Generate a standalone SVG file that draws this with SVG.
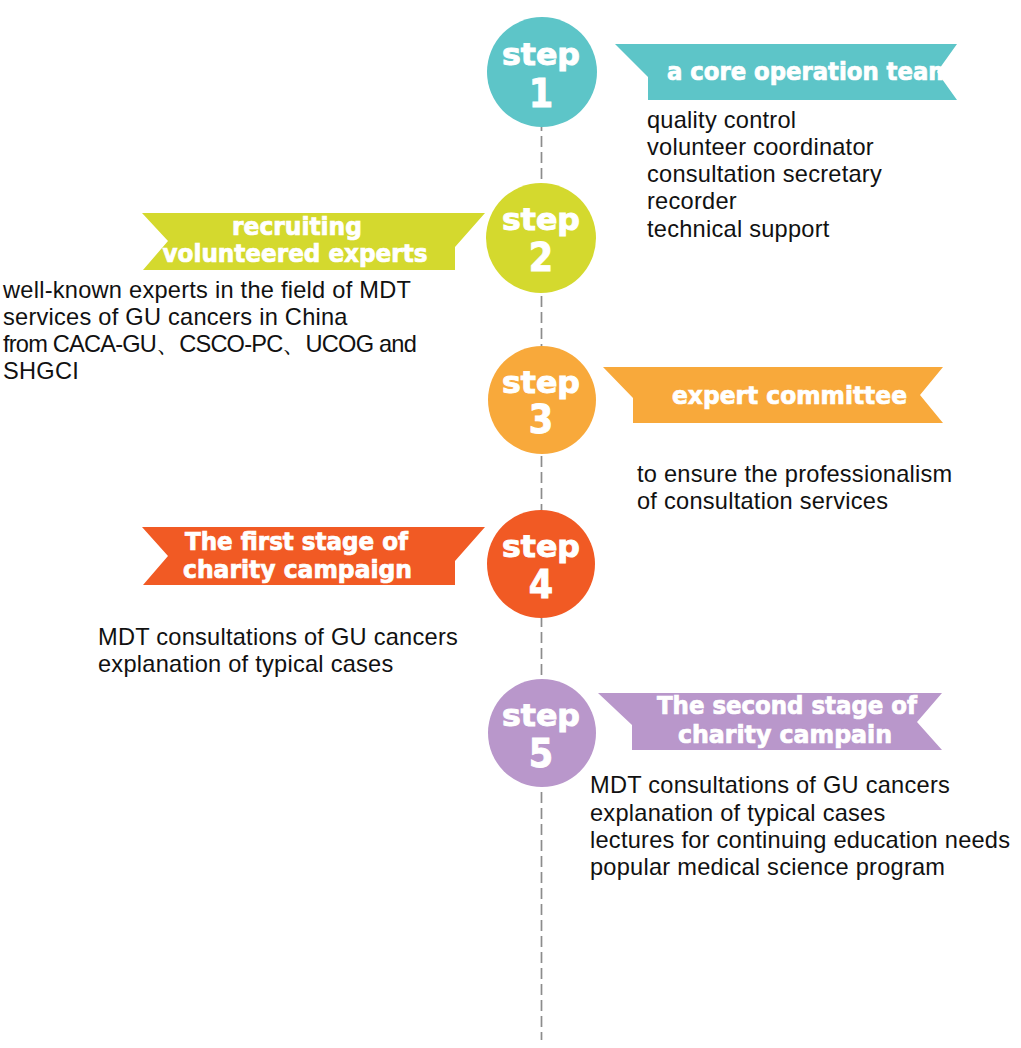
<svg xmlns="http://www.w3.org/2000/svg" width="1021" height="1048" viewBox="0 0 1021 1048">
<style>
.bg{fill:#ffffff}
.conn{stroke:#8c8c8c;stroke-width:1.7;stroke-dasharray:11 5;fill:none}
.st{font-family:"DejaVu Sans Condensed","DejaVu Sans",sans-serif;font-weight:bold;fill:#ffffff;text-anchor:middle;stroke:#ffffff;stroke-width:0.9}
.stw{font-size:31px}
.stn{font-size:39px}
.rb{font-family:"DejaVu Sans Condensed","DejaVu Sans",sans-serif;font-weight:bold;font-size:24px;fill:#ffffff;stroke:#ffffff;stroke-width:0.7}
.body{font-family:"Liberation Sans","Noto Sans",sans-serif;font-size:23.6px;letter-spacing:0.25px;fill:#111111}
.c1{fill:#5DC5C8}.c2{fill:#D4D92E}.c3{fill:#F8A93B}.c4{fill:#F15A24}.c5{fill:#B997CB}
</style>
<rect class="bg" x="0" y="0" width="1021" height="1048"/>
<g id="connectors">
<line class="conn" x1="541.5" y1="120" x2="541.5" y2="1040"/>
</g>
<g id="step1">
<circle class="c1" cx="542" cy="72" r="55"/>
<text class="st stw" x="541" y="65" textLength="78" lengthAdjust="spacingAndGlyphs">step</text>
<text class="st stn" x="541" y="107">1</text>
<polygon class="c1" points="615,44 957,44 937,72 957,100 648,100 648,77"/>
<text class="rb" x="667" y="80" textLength="285" lengthAdjust="spacingAndGlyphs">a core operation team</text>
<text class="body" x="647" y="128">quality control</text>
<text class="body" x="647" y="155">volunteer coordinator</text>
<text class="body" x="647" y="182">consultation secretary</text>
<text class="body" x="647" y="209">recorder</text>
<text class="body" x="647" y="237">technical support</text>
</g>
<g id="step2">
<circle class="c2" cx="541" cy="238" r="55"/>
<text class="st stw" x="541" y="230" textLength="78" lengthAdjust="spacingAndGlyphs">step</text>
<text class="st stn" x="541" y="271">2</text>
<polygon class="c2" points="142,213 485,213 455,247 455,270 143,270 168,241"/>
<text class="rb" x="297" y="235" text-anchor="middle" textLength="130" lengthAdjust="spacingAndGlyphs">recruiting</text>
<text class="rb" x="295" y="262" text-anchor="middle" textLength="265" lengthAdjust="spacingAndGlyphs">volunteered experts</text>
<text class="body" x="3" y="298">well-known experts in the field of MDT</text>
<text class="body" x="3" y="325">services of GU cancers in China</text>
<text class="body" x="3" y="352" textLength="414" lengthAdjust="spacing">from CACA-GU、CSCO-PC、UCOG and</text>
<text class="body" x="3" y="379">SHGCI</text>
</g>
<g id="step3">
<circle class="c3" cx="542" cy="400" r="54"/>
<text class="st stw" x="541" y="393" textLength="78" lengthAdjust="spacingAndGlyphs">step</text>
<text class="st stn" x="541" y="433">3</text>
<polygon class="c3" points="603,367 943,367 920,395 943,423 633,423 633,398"/>
<text class="rb" x="672" y="404" textLength="235" lengthAdjust="spacingAndGlyphs">expert committee</text>
<text class="body" x="637" y="482">to ensure the professionalism</text>
<text class="body" x="637" y="509">of consultation services</text>
</g>
<g id="step4">
<circle class="c4" cx="541" cy="564" r="54"/>
<text class="st stw" x="541" y="557" textLength="78" lengthAdjust="spacingAndGlyphs">step</text>
<text class="st stn" x="541" y="598">4</text>
<polygon class="c4" points="142,527 485,527 455,561 455,585 143,585 168,556"/>
<text class="rb" x="185" y="550" textLength="223" lengthAdjust="spacingAndGlyphs">The first stage of</text>
<text class="rb" x="183" y="578" textLength="229" lengthAdjust="spacingAndGlyphs">charity campaign</text>
<text class="body" x="98" y="645">MDT consultations of GU cancers</text>
<text class="body" x="98" y="672">explanation of typical cases</text>
</g>
<g id="step5">
<circle class="c5" cx="542" cy="733" r="54"/>
<text class="st stw" x="541" y="726" textLength="78" lengthAdjust="spacingAndGlyphs">step</text>
<text class="st stn" x="541" y="767">5</text>
<polygon class="c5" points="598,693 942,693 917,722 942,750 632,750 632,725"/>
<text class="rb" x="657" y="714" textLength="260" lengthAdjust="spacingAndGlyphs">The second stage of</text>
<text class="rb" x="678" y="743" textLength="214" lengthAdjust="spacingAndGlyphs">charity campain</text>
<text class="body" x="590" y="793">MDT consultations of GU cancers</text>
<text class="body" x="590" y="821">explanation of typical cases</text>
<text class="body" x="590" y="848">lectures for continuing education needs</text>
<text class="body" x="590" y="875">popular medical science program</text>
</g>
</svg>
